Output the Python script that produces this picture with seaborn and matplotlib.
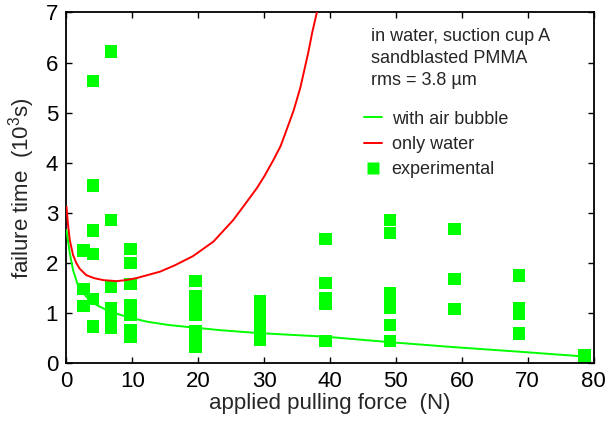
import pandas as pd
import matplotlib
matplotlib.use("Agg")
import matplotlib.pyplot as plt
from matplotlib.lines import Line2D
import seaborn as sns

sns.set_theme(style='ticks')
plt.rcParams['font.family'] = ['Liberation Sans', 'DejaVu Sans']
plt.rcParams['mathtext.fontset'] = 'custom'
plt.rcParams['mathtext.rm'] = 'Liberation Sans'
plt.rcParams['mathtext.it'] = 'Liberation Sans'

# experimental failure times (10^3 s) at each pulling force (N)
exp_force = [2.6, 2.6, 2.6,
             4.0, 4.0, 4.0, 4.0, 4.0, 4.0,
             6.8, 6.8, 6.8, 6.8, 6.8, 6.8,
             9.7, 9.7, 9.7, 9.7, 9.7, 9.7, 9.7,
             19.6, 19.6, 19.6, 19.6, 19.6, 19.6, 19.6, 19.6,
             29.4, 29.4, 29.4, 29.4, 29.4, 29.4,
             39.3, 39.3, 39.3, 39.3, 39.3,
             49.1, 49.1, 49.1, 49.1, 49.1, 49.1, 49.1,
             58.9, 58.9, 58.9,
             68.7, 68.7, 68.7, 68.7,
             78.6, 78.6]
exp_time = [2.24, 1.47, 1.13,
            5.63, 3.54, 2.64, 2.17, 1.27, 0.72,
            6.22, 2.85, 1.51, 1.08, 0.95, 0.70,
            2.27, 1.99, 1.57, 1.15, 0.95, 0.65, 0.52,
            1.63, 1.32, 1.15, 0.95, 0.62, 0.50, 0.40, 0.32,
            1.22, 1.00, 0.85, 0.70, 0.55, 0.45,
            2.47, 1.59, 1.29, 1.18, 0.43,
            2.85, 2.59, 1.39, 1.25, 1.10, 0.75, 0.43,
            2.67, 1.67, 1.07,
            1.74, 1.08, 0.98, 0.58,
            0.15, 0.03]

# theory: with air bubble
bubble_force = [0, 0.25, 0.5, 1.0, 1.8, 3.0, 4.6, 6.6, 9.1, 12.2, 15.7, 20.3,
                23.3, 29.4, 39.3, 49.1, 58.9, 68.7, 79.0]
bubble_time = [2.65, 2.42, 2.19, 1.85, 1.52, 1.32, 1.15, 1.02, 0.92, 0.82, 0.75,
               0.69, 0.65, 0.59, 0.52, 0.41, 0.31, 0.22, 0.12]

# theory: only water
water_force = [0, 0.2, 0.5, 1.0, 1.5, 2.0, 3.0, 4.2, 5.6, 7.6, 9.0, 10.6, 12.0,
               14.2, 16.5, 19.2, 22.3, 25.3, 27.0, 28.9, 30.0, 31.4, 32.5, 33.4,
               34.5, 35.5, 36.7, 37.3, 38.0]
water_time = [3.12, 2.80, 2.45, 2.15, 1.99, 1.88, 1.75, 1.69, 1.65, 1.63, 1.65,
              1.69, 1.74, 1.82, 1.95, 2.13, 2.42, 2.85, 3.15, 3.49, 3.72, 4.05,
              4.33, 4.65, 5.05, 5.50, 6.20, 6.60, 7.0]

exp_df = pd.DataFrame({'force': exp_force, 'time': exp_time})
bub_df = pd.DataFrame({'force': bubble_force, 'time': bubble_time})
wat_df = pd.DataFrame({'force': water_force, 'time': water_time})

green = '#00ff00'
red = '#ff0000'

fig = plt.figure(figsize=(6.1, 4.25), dpi=100)
ax = fig.add_axes([0.109, 0.1466, 0.864, 0.824])

sns.scatterplot(data=exp_df, x='force', y='time', marker='s', s=80, color=green,
                edgecolor='none', linewidth=0, ax=ax, zorder=2)
sns.lineplot(data=bub_df, x='force', y='time', color=green, lw=1.4, ax=ax,
             sort=False, estimator=None, zorder=3)
sns.lineplot(data=wat_df, x='force', y='time', color=red, lw=1.4, ax=ax,
             sort=False, estimator=None, zorder=3)

ax.set_xlim(0, 80)
ax.set_ylim(0, 7)
ax.set_xticks(range(0, 81, 10))
ax.set_yticks(range(0, 8))
ax.tick_params(direction='in', length=4, width=1, top=True, right=True,
               labelsize=16, colors='black', pad=6)
for sp in ax.spines.values():
    sp.set_linewidth(1.3)
    sp.set_color('black')

ax.set_xlabel('applied pulling force  (N)', fontsize=16, labelpad=1)
ax.set_ylabel('failure time  (10$^3$s)', fontsize=16, labelpad=6)

ax.text(0.578, 0.955, 'in water, suction cup A\nsandblasted PMMA\nrms = 3.8 \u00b5m',
        transform=ax.transAxes, fontsize=13, va='top', ha='left', linespacing=1.38)

handles = [Line2D([], [], color=green, lw=1.4),
           Line2D([], [], color=red, lw=1.4),
           Line2D([], [], color=green, marker='s', ms=8.5, ls='none', mec='none')]
labels = ['with air bubble', 'only water', 'experimental']
ax.legend(handles, labels, loc='upper left', bbox_to_anchor=(0.55, 0.74),
          frameon=False, fontsize=13, handlelength=1.0, handletextpad=0.55,
          labelspacing=0.45, borderaxespad=0)

fig.savefig('out.png', dpi=100)
